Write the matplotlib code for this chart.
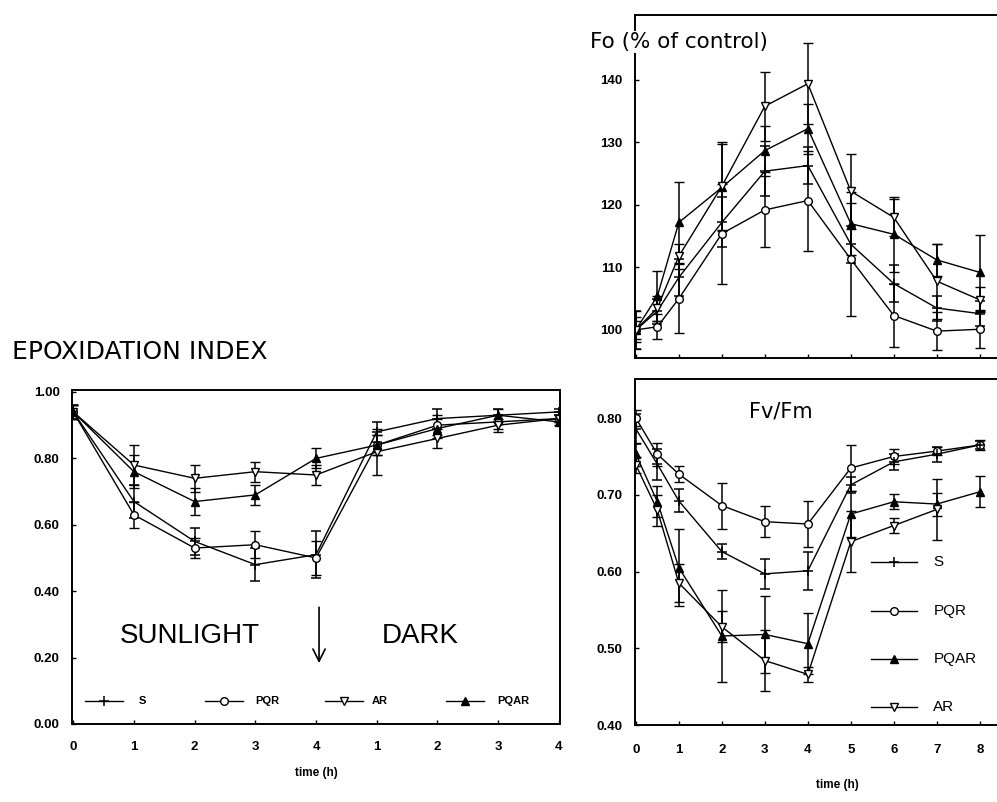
import numpy as np
import matplotlib
matplotlib.use("Agg")
import matplotlib.pyplot as plt

plt.rcParams['font.family'] = ['Liberation Sans', 'DejaVu Sans']

# ---------------- data: epoxidation index ----------------
ep_x = [0, 1, 2, 3, 4, 5, 6, 7, 8]
ep_xlabels = ['0', '1', '2', '3', '4', '1', '2', '3', '4']
ep_S = [0.94, 0.67, 0.55, 0.48, 0.51, 0.88, 0.92, 0.93, 0.94]
ep_S_err = [0.02, 0.05, 0.04, 0.05, 0.07, 0.03, 0.03, 0.02, 0.01]
ep_PQR = [0.94, 0.63, 0.53, 0.54, 0.50, 0.84, 0.90, 0.91, 0.92]
ep_PQR_err = [0.02, 0.04, 0.03, 0.04, 0.05, 0.03, 0.03, 0.02, 0.01]
ep_AR = [0.94, 0.78, 0.74, 0.76, 0.75, 0.82, 0.86, 0.90, 0.92]
ep_AR_err = [0.02, 0.06, 0.04, 0.03, 0.03, 0.07, 0.03, 0.02, 0.01]
ep_PQAR = [0.94, 0.76, 0.67, 0.69, 0.80, 0.84, 0.89, 0.93, 0.91]
ep_PQAR_err = [0.02, 0.05, 0.04, 0.03, 0.03, 0.03, 0.03, 0.02, 0.01]

# ---------------- data: Fo (% of control) ----------------
t = [0, 0.5, 1, 2, 3, 4, 5, 6, 7, 8]
fo_PQR = [100, 100.5, 105, 115.4, 119.2, 120.7, 111.3, 102.3, 99.8, 100.1]
fo_PQR_err = [1.5, 2, 5.5, 8, 6, 8, 9, 5, 3, 3]
fo_S = [100, 103, 108.4, 117.2, 125.4, 126.3, 113.7, 107.4, 103.5, 102.6]
fo_S_err = [3, 2, 3, 4, 4, 3, 3, 3, 2, 2]
fo_PQAR = [100, 105.4, 117.2, 122.8, 128.7, 132.2, 117.0, 115.3, 111.2, 109.2]
fo_PQAR_err = [3, 4, 6.5, 7, 4, 4, 5, 6, 2.5, 6]
fo_AR = [100, 103.5, 111.8, 123.0, 135.8, 139.4, 122.2, 118.0, 107.8, 104.8]
fo_AR_err = [2, 2, 2, 7, 5.5, 6.5, 6, 3, 6, 2]

# ---------------- data: Fv/Fm ----------------
fv_PQR = [0.800, 0.753, 0.727, 0.686, 0.665, 0.662, 0.735, 0.750, 0.757, 0.765]
fv_PQR_err = [0.01, 0.015, 0.01, 0.03, 0.02, 0.03, 0.03, 0.01, 0.005, 0.006]
fv_S = [0.786, 0.740, 0.692, 0.626, 0.597, 0.601, 0.713, 0.743, 0.753, 0.765]
fv_S_err = [0.02, 0.02, 0.015, 0.01, 0.02, 0.025, 0.01, 0.01, 0.01, 0.005]
fv_PQAR = [0.753, 0.691, 0.605, 0.516, 0.518, 0.506, 0.675, 0.691, 0.688, 0.704]
fv_PQAR_err = [0.015, 0.02, 0.05, 0.06, 0.05, 0.04, 0.03, 0.01, 0.015, 0.02]
fv_AR = [0.739, 0.680, 0.585, 0.528, 0.484, 0.466, 0.639, 0.660, 0.681, np.nan]
fv_AR_err = [0.01, 0.02, 0.025, 0.02, 0.04, 0.01, 0.04, 0.01, 0.04, np.nan]

W, H = 997, 802
fig = plt.figure(figsize=(W / 100, H / 100), dpi=100)

def px_axes(x0, y0, x1, y1):
    return fig.add_axes([x0 / W, 1 - y1 / H, (x1 - x0) / W, (y1 - y0) / H])

styles = {
    'S': dict(marker='+', mfc='black', ms=7.5, mew=1.1),
    'PQR': dict(marker='o', mfc='white', ms=5.5, mew=1.0),
    'AR': dict(marker='v', mfc='white', ms=6, mew=1.0),
    'PQAR': dict(marker='^', mfc='black', ms=5.5, mew=1.0),
}

def series(ax, x, y, e, name):
    ax.errorbar(x, y, yerr=e, color='black', lw=1.0, elinewidth=1.1,
                capsize=3.5, capthick=1.1, mec='black', **styles[name])

def style_axes(ax, xpad, ypad):
    for s in ax.spines.values():
        s.set_linewidth(1.4)
    ax.tick_params(direction='in', length=3, width=1.0, labelsize=9.5,
                   top=False, right=False)
    ax.tick_params(axis='x', pad=xpad)
    ax.tick_params(axis='y', pad=ypad)
    for lab in ax.get_xticklabels() + ax.get_yticklabels():
        lab.set_fontweight('bold')

# ---------------- left panel ----------------
ax1 = px_axes(72, 390, 560, 724)
for name, y, e in [('S', ep_S, ep_S_err), ('PQR', ep_PQR, ep_PQR_err),
                   ('AR', ep_AR, ep_AR_err), ('PQAR', ep_PQAR, ep_PQAR_err)]:
    series(ax1, ep_x, y, e, name)
ax1.set_xlim(-0.02, 8.02)
ax1.set_ylim(0, 1.006)
ax1.set_xticks(ep_x)
ax1.set_xticklabels(ep_xlabels)
ax1.set_yticks([0, 0.2, 0.4, 0.6, 0.8, 1.0])
ax1.set_yticklabels(['0.00', '0.20', '0.40', '0.60', '0.80', '1.00'])
style_axes(ax1, 12, 9)
fig.text(316 / W, 1 - 773 / H, 'time (h)', ha='center', va='center',
         fontsize=8.5, fontweight='bold')
fig.text(12 / W, 1 - 352 / H, 'EPOXIDATION INDEX', ha='left', va='center',
         fontsize=18, family=['DejaVu Sans'])
ax1.text(1.92, 0.265, 'SUNLIGHT', ha='center', va='center', fontsize=20)
ax1.text(5.72, 0.265, 'DARK', ha='center', va='center', fontsize=20)
ax1.annotate('', xy=(4.05, 0.175), xytext=(4.05, 0.36),
             arrowprops=dict(arrowstyle='->', lw=1.2, color='black',
                             mutation_scale=22))
# legend (horizontal)
leg_pos = [('S', 0.2, 1.08), ('PQR', 2.17, 3.0), ('AR', 4.15, 4.92), ('PQAR', 6.14, 6.98)]
for name, x0, xl in leg_pos:
    ax1.plot([x0, x0 + 0.62], [0.07, 0.07], color='black', lw=1.0)
    ax1.plot([x0 + 0.31], [0.07], ls='none', mec='black', color='black', **styles[name])
    ax1.text(xl, 0.068, name, ha='left', va='center', fontsize=8, fontweight='bold')

# ---------------- Fo panel ----------------
ax2 = px_axes(635, 15, 997, 358)
for name, y, e in [('PQR', fo_PQR, fo_PQR_err), ('S', fo_S, fo_S_err),
                   ('PQAR', fo_PQAR, fo_PQAR_err), ('AR', fo_AR, fo_AR_err)]:
    series(ax2, t, y, e, name)
ax2.set_xlim(-0.02, 8.4)
ax2.set_ylim(95.5, 150.4)
ax2.set_xticks(range(9))
ax2.set_xticklabels([])
ax2.set_yticks([100, 110, 120, 130, 140])
style_axes(ax2, 12, 9)
ax2.spines['right'].set_visible(False)
fig.text(590 / W, 1 - 42 / H, 'Fo (% of control)', ha='left', va='center',
         fontsize=15.5, family=['DejaVu Sans'],
         bbox=dict(facecolor='white', edgecolor='none', pad=1))

# ---------------- Fv/Fm panel ----------------
ax3 = px_axes(635, 379, 997, 725)
for name, y, e in [('PQR', fv_PQR, fv_PQR_err), ('S', fv_S, fv_S_err),
                   ('PQAR', fv_PQAR, fv_PQAR_err), ('AR', fv_AR, fv_AR_err)]:
    series(ax3, t, y, e, name)
ax3.set_xlim(-0.02, 8.4)
ax3.set_ylim(0.40, 0.851)
ax3.set_xticks(range(9))
ax3.set_yticks([0.4, 0.5, 0.6, 0.7, 0.8])
ax3.set_yticklabels(['0.40', '0.50', '0.60', '0.70', '0.80'])
style_axes(ax3, 14, 9)
ax3.spines['right'].set_visible(False)
ax3.text(3.37, 0.808, 'Fv/Fm', ha='center', va='center', fontsize=15,
         family=['DejaVu Sans'])
fig.text(837 / W, 1 - 785 / H, 'time (h)', ha='center', va='center',
         fontsize=8.5, fontweight='bold')
leg2 = [('S', 0.612), ('PQR', 0.548), ('PQAR', 0.486), ('AR', 0.424)]
for name, yv in leg2:
    ax3.plot([5.46, 6.54], [yv, yv], color='black', lw=1.0)
    ax3.plot([6.0], [yv], ls='none', mec='black', color='black', **styles[name])
    ax3.text(6.92, yv, name, ha='left', va='center', fontsize=11)

fig.savefig('out.png', dpi=100)
